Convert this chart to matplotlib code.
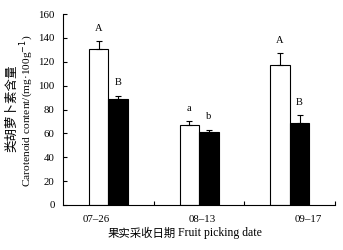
import numpy as np
import matplotlib
matplotlib.use('Agg')
import matplotlib.pyplot as plt
from matplotlib.ticker import FixedLocator

dates = ['07–26', '08–13', '09–17']
white_vals = [131, 67, 117]
white_err = [6, 3, 10]
black_vals = [88.5, 61, 69]
black_err = [3, 2, 6]
white_letters = ['A', 'a', 'A']
black_letters = ['B', 'b', 'B']

serif = ['Liberation Serif', 'DejaVu Serif']
cjk = ['Noto Sans CJK SC', 'Liberation Serif']
plt.rcParams['font.family'] = serif

fig = plt.figure(figsize=(3.43, 2.5), dpi=100)
ax = fig.add_axes([0.184, 0.18, 0.793, 0.764])

x = np.arange(len(dates))
w = 0.215
ax.bar(x - w / 2, white_vals, w, color='white', edgecolor='black', linewidth=0.8)
ax.bar(x + w / 2, black_vals, w, color='black', edgecolor='black', linewidth=0.8)
ax.errorbar(x - w / 2, white_vals, yerr=[np.zeros(3), white_err], fmt='none',
            ecolor='black', elinewidth=0.8, capsize=2.5, capthick=0.8)
ax.errorbar(x + w / 2, black_vals, yerr=[np.zeros(3), black_err], fmt='none',
            ecolor='black', elinewidth=0.8, capsize=2.5, capthick=0.8)

# significance letters above the error bars
for i in range(len(dates)):
    ax.text(x[i] - w / 2, white_vals[i] + white_err[i] + 11, white_letters[i],
            ha='center', va='center', fontsize=7.5)
    ax.text(x[i] + w / 2, black_vals[i] + black_err[i] + 11, black_letters[i],
            ha='center', va='center', fontsize=7.5)

ax.set_xlim(-0.5, 2.5)
ax.set_ylim(0, 160)
ax.set_yticks(range(0, 161, 20))
# date labels in the original sit slightly off the group centres
ax.set_xticks([-0.14, 1.03, 2.2])
ax.set_xticklabels(dates, fontsize=7.8)
ax.xaxis.set_minor_locator(FixedLocator([0.5, 1.5, 2.5]))
ax.tick_params(axis='x', which='major', length=0, pad=7)
ax.tick_params(axis='x', which='minor', direction='in', length=3, width=0.8)
ax.tick_params(axis='y', direction='in', length=3, width=0.8, labelsize=7.8, pad=6)
ax.spines['top'].set_visible(False)
ax.spines['right'].set_visible(False)
for s in ['left', 'bottom']:
    ax.spines[s].set_linewidth(0.8)

fig.text(0.033, 0.567, '类胡萝卜素含量', rotation=90, ha='center', va='center',
         fontsize=9, family=cjk)
fig.text(0.08, 0.557, 'Carotenoid content/(mg·100g$^{-1}$)', rotation=90,
         ha='center', va='center', fontsize=8.2)
fig.text(0.512, 0.068, '果实采收日期', ha='right', va='center', fontsize=8.2, family=cjk)
fig.text(0.518, 0.068, 'Fruit picking date', ha='left', va='center', fontsize=8.5)

fig.savefig('out.png', dpi=100)
